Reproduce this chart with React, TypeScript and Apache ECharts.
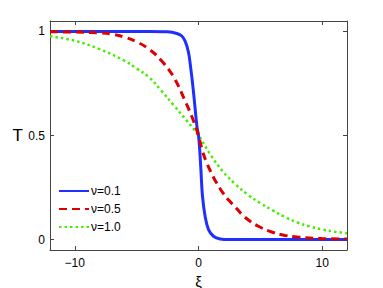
import React, { useEffect, useRef } from "react";
import * as echarts from "echarts";

const legendNames = ["ν=0.1", "ν=0.5", "ν=1.0"];

const xiBlue = [-12, -4, -2.5, -1.75, -1.35, -1.08, -0.81, -0.62, -0.46, -0.29, -0.13, 0, 0.1, 0.19, 0.32, 0.54, 0.81, 1.21, 1.75, 2.5, 12];
const tBlue = [1.0, 1.0, 0.998, 0.99, 0.978, 0.953, 0.9, 0.82, 0.74, 0.64, 0.545, 0.5, 0.43, 0.34, 0.21, 0.11, 0.048, 0.016, 0.003, 0.0, 0.0];

const xiRed = [-12, -10, -8, -7, -6, -5, -4, -3, -2, -1, -0.5, 0, 0.3, 0.62, 1, 1.43, 2, 2.51, 3, 3.7, 4.8, 6, 7, 8, 10, 12];
const tRed = [0.998, 0.997, 0.993, 0.987, 0.973, 0.95, 0.915, 0.86, 0.78, 0.655, 0.585, 0.5, 0.43, 0.375, 0.325, 0.275, 0.222, 0.185, 0.155, 0.11, 0.065, 0.035, 0.02, 0.012, 0.005, 0.003];

const xiGreen = [-12, -10, -8, -6, -5, -4, -3, -2, -1, 0, 1, 2, 3, 4, 5, 6, 7, 8, 9, 10, 11, 12];
const tGreen = [0.977, 0.955, 0.915, 0.86, 0.822, 0.78, 0.715, 0.645, 0.575, 0.5, 0.405, 0.325, 0.265, 0.215, 0.175, 0.14, 0.108, 0.082, 0.063, 0.049, 0.038, 0.031];

const xTicks = [-10, 0, 10];
const yTicks = [0, 0.5, 1];

const zip = (xs: number[], ys: number[]) => xs.map((x, i) => [x, ys[i]]);

const FONT = "Liberation Sans, Arial, sans-serif";
const AXIS_COLOR = "#444";

export default function App() {
  const ref = useRef<HTMLDivElement>(null);
  useEffect(() => {
    if (!ref.current) return;
    const chart = echarts.init(ref.current, null, { renderer: "svg" });
    const fmt = (v: number) => (v < 0 ? "\u2212" + Math.abs(v) : String(v));
    const baseX = {
      type: "value" as const,
      min: -12,
      max: 12,
      splitLine: { show: false },
      axisLine: { show: true, onZero: false, lineStyle: { color: AXIS_COLOR, width: 1 } },
      axisTick: { show: true, inside: true, length: 4, customValues: xTicks, lineStyle: { color: AXIS_COLOR } },
    };
    const baseY = {
      type: "value" as const,
      min: -0.05,
      max: 1.05,
      splitLine: { show: false },
      axisLine: { show: true, onZero: false, lineStyle: { color: AXIS_COLOR, width: 1 } },
      axisTick: { show: true, inside: true, length: 4, customValues: yTicks, lineStyle: { color: AXIS_COLOR } },
    };
    const lineSeries = (name: string, data: number[][], color: string, width: number, type: any, z: number) => ({
      name,
      type: "line",
      data,
      smooth: 0.4,
      showSymbol: false,
      symbol: "none",
      lineStyle: { color, width, type },
      itemStyle: { color },
      z,
    });
    chart.setOption({
      animation: false,
      backgroundColor: "#fff",
      grid: { left: 50, top: 21, right: 36, bottom: 38, containLabel: false, outerBoundsMode: "none" },
      xAxis: [
        {
          ...baseX,
          position: "bottom",
          name: "ξ",
          nameLocation: "middle",
          nameGap: 25,
          nameMoveOverlap: false,
          nameTextStyle: { fontSize: 15, color: "#000", fontFamily: FONT, lineHeight: 13 },
          axisLabel: { customValues: xTicks, formatter: fmt, fontSize: 12, lineHeight: 11, color: "#000", fontFamily: FONT, margin: 7 },
        },
        { ...baseX, position: "top", axisLabel: { show: false } },
      ],
      yAxis: [
        {
          ...baseY,
          position: "left",
          name: "T",
          nameLocation: "middle",
          nameRotate: 0,
          nameGap: 27,
          nameMoveOverlap: false,
          nameTextStyle: { fontSize: 17, color: "#000", fontFamily: FONT },
          axisLabel: { customValues: yTicks, fontSize: 12, color: "#000", fontFamily: FONT, margin: 5 },
        },
        { ...baseY, position: "right", axisLabel: { show: false } },
      ],
      legend: {
        orient: "vertical",
        left: 58,
        top: 185,
        padding: 0,
        itemWidth: 30,
        itemHeight: 12,
        itemGap: 6,
        itemStyle: { opacity: 0 },
        textStyle: { fontSize: 12, color: "#000", fontFamily: FONT, padding: [0, 0, 0, -3] },
        data: legendNames,
      },
      series: [
        lineSeries(legendNames[0], zip(xiBlue, tBlue), "#1f2fff", 3, "solid", 3),
        lineSeries(legendNames[1], zip(xiRed, tRed), "#dd0000", 3, [8, 5], 4),
        lineSeries(legendNames[2], zip(xiGreen, tGreen), "#44ee00", 2.5, [2.5, 3], 2),
      ],
    });
    return () => chart.dispose();
  }, []);
  return <div ref={ref} style={{ width: 383, height: 288, position: "absolute", left: 0, top: 0 }} />;
}
